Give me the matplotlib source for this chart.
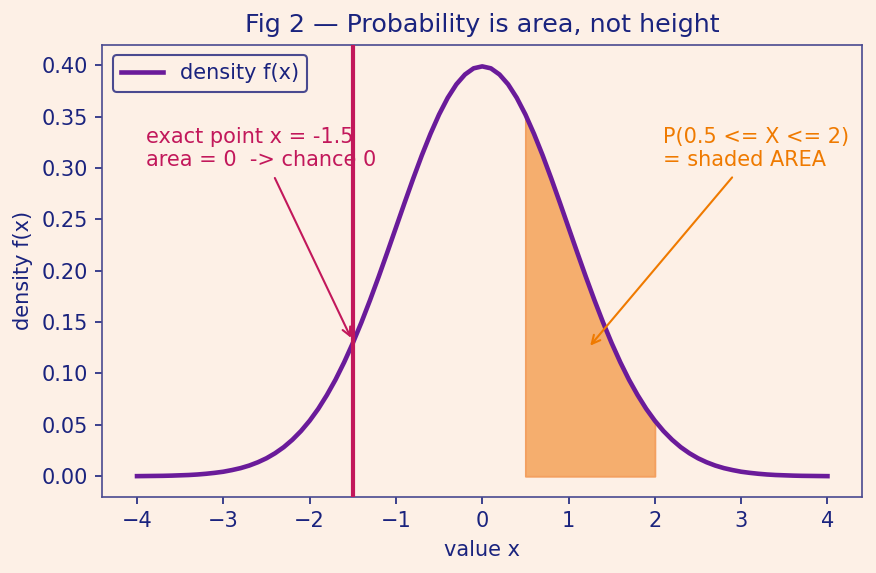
import numpy as np
import matplotlib
matplotlib.use("Agg")
import matplotlib.pyplot as plt

# x grid and density values
x_vals = np.round(np.arange(-4.0, 4.0001, 0.1), 1)
half_density = [0.3989, 0.3970, 0.3910, 0.3814, 0.3683, 0.3521, 0.3332, 0.3123,
                0.2897, 0.2661, 0.2420, 0.2179, 0.1942, 0.1714, 0.1497, 0.1295,
                0.1109, 0.0940, 0.0790, 0.0656, 0.0540, 0.0440, 0.0355, 0.0283,
                0.0224, 0.0175, 0.0136, 0.0104, 0.0079, 0.0060, 0.0044, 0.0033,
                0.0024, 0.0017, 0.0012, 0.0009, 0.0006, 0.0004, 0.0003, 0.0002,
                0.0001]
density = np.array(half_density[:0:-1] + half_density)

point_x = -1.5
area_lo, area_hi = 0.5, 2.0

BG = "#fdf0e6"
NAVY = "#1a237e"
PURPLE = "#6a1b9a"
CRIMSON = "#c2185b"
ORANGE = "#ef7a00"
FILL = "#f5ae6e"
SPINE = "#4a4a90"

fig, ax = plt.subplots(figsize=(5.84, 3.82), dpi=150)
fig.patch.set_facecolor(BG)
ax.set_facecolor(BG)

mask = (x_vals >= area_lo - 1e-9) & (x_vals <= area_hi + 1e-9)
ax.fill_between(x_vals[mask], 0, density[mask], facecolor=FILL, edgecolor="#f3a060",
                linewidth=0.9, zorder=1)
ax.plot(x_vals, density, color=PURPLE, lw=2.2, label="density f(x)", zorder=3)
ax.axvline(point_x, color=CRIMSON, lw=2.0, zorder=4)

ax.annotate("exact point x = -1.5\narea = 0  -> chance 0",
            xy=(point_x, 0.131), xytext=(-3.9, 0.298), ha="left", va="bottom",
            color=CRIMSON, fontsize=10,
            arrowprops=dict(arrowstyle="->", color=CRIMSON, lw=1.0))
ax.annotate("P(0.5 <= X <= 2)\n= shaded AREA",
            xy=(1.22, 0.124), xytext=(2.1, 0.298), ha="left", va="bottom",
            color=ORANGE, fontsize=10,
            arrowprops=dict(arrowstyle="->", color=ORANGE, lw=1.0))

ax.set_xlim(-4.4, 4.4)
ax.set_ylim(-0.02, 0.42)
ax.set_yticks(np.arange(0, 0.401, 0.05))
ax.set_yticklabels([f"{v:.2f}" for v in np.arange(0, 0.401, 0.05)])
ax.set_xticks(range(-4, 5))

ax.set_title("Fig 2 — Probability is area, not height", color=NAVY, fontsize=12.2)
ax.set_xlabel("value x", color=NAVY, fontsize=10)
ax.set_ylabel("density f(x)", color=NAVY, fontsize=10)
ax.tick_params(colors=NAVY, labelsize=10)
for s in ax.spines.values():
    s.set_color(SPINE)

leg = ax.legend(loc="upper left", fontsize=10, facecolor=BG, edgecolor=SPINE,
                framealpha=1, labelcolor=NAVY)

fig.subplots_adjust(left=0.117, right=0.984, top=0.922, bottom=0.133)
fig.savefig("out.png", dpi=150, facecolor=BG)
